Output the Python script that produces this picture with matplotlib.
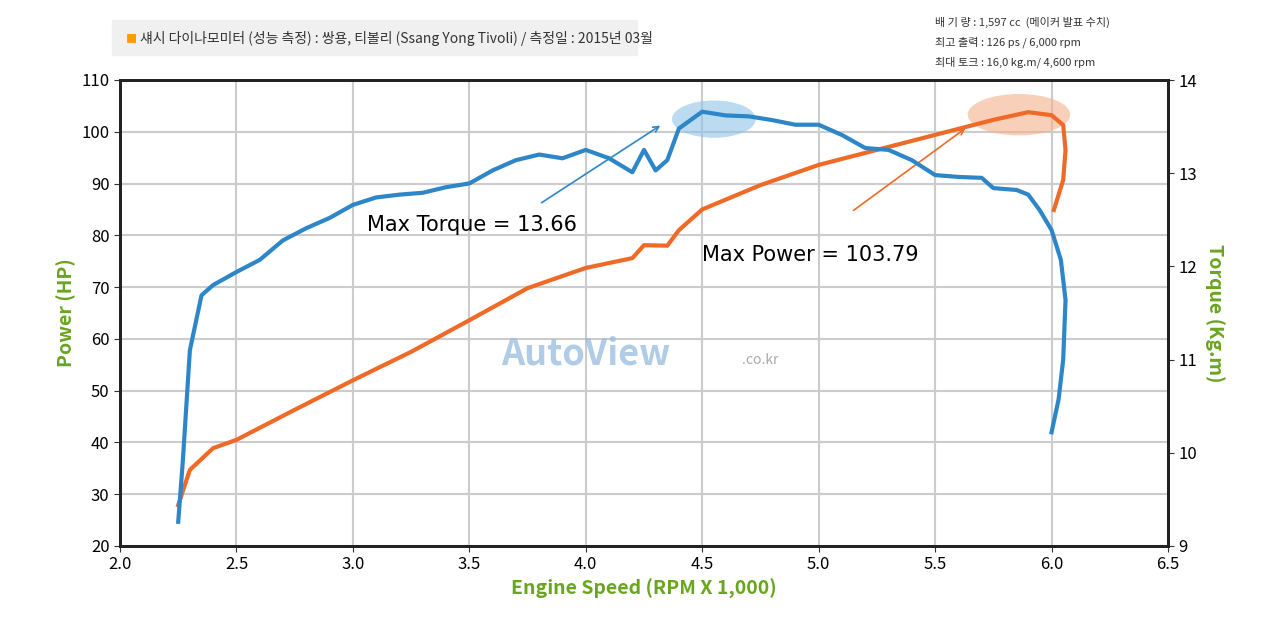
import matplotlib.pyplot as plt
from matplotlib.patches import Ellipse

plt.rcParams['font.family'] = ['Noto Sans CJK KR', 'DejaVu Sans']

# torque curve (kg.m) vs rpm x1000
torque_rpm = [2.25, 2.27, 2.3, 2.35, 2.4, 2.5, 2.6, 2.7, 2.8, 2.9, 3.0, 3.1, 3.2, 3.3, 3.4,
              3.5, 3.6, 3.7, 3.8, 3.9, 4.0, 4.1, 4.2, 4.25, 4.3, 4.35, 4.4, 4.5, 4.6, 4.7,
              4.8, 4.9, 5.0, 5.1, 5.2, 5.3, 5.4, 5.5, 5.6, 5.7, 5.75, 5.85, 5.9, 5.95, 6.0,
              6.04, 6.06, 6.05, 6.03, 6.0]
torque = [9.26, 9.92, 11.1, 11.69, 11.8, 11.94, 12.07, 12.28, 12.41, 12.52, 12.66, 12.74,
          12.77, 12.79, 12.85, 12.89, 13.03, 13.14, 13.2, 13.16, 13.25, 13.16, 13.01, 13.25,
          13.03, 13.14, 13.48, 13.66, 13.62, 13.61, 13.57, 13.52, 13.52, 13.41, 13.27, 13.25,
          13.14, 12.98, 12.96, 12.95, 12.84, 12.82, 12.77, 12.6, 12.39, 12.07, 11.64, 11.0,
          10.57, 10.22]

# power curve (HP)
power_rpm = [2.25, 2.3, 2.4, 2.5, 2.75, 3.0, 3.25, 3.5, 3.75, 4.0, 4.2, 4.25, 4.35, 4.4,
             4.5, 4.75, 5.0, 5.25, 5.5, 5.75, 5.9, 6.0, 6.05, 6.06, 6.05, 6.01]
power = [27.9, 34.7, 38.9, 40.5, 46.3, 52.0, 57.5, 63.6, 69.8, 73.7, 75.6, 78.1, 78.0, 81.0,
         85.0, 89.7, 93.6, 96.5, 99.4, 102.3, 103.79, 103.2, 101.3, 96.5, 90.7, 84.9]

green = '#6aa51e'
blue = '#2d86c8'
orange = '#ef6a26'

fig = plt.figure(figsize=(12.8, 6.21), dpi=100)
ax = fig.add_axes([120 / 1280, 1 - 546 / 621, 1048 / 1280, 466 / 621])
ax2 = ax.twinx()

ax.plot(power_rpm, power, color=orange, lw=3, zorder=3)
ax2.plot(torque_rpm, torque, color=blue, lw=3, zorder=3)

ax.set_xlim(2.0, 6.5)
ax.set_ylim(20, 110)
ax2.set_ylim(9, 14)
ax.set_xticks([2.0 + 0.5 * i for i in range(10)])
ax.set_yticks(range(20, 111, 10))
ax2.set_yticks(range(9, 15))
ax.grid(True, color='#cccccc', lw=1.5)
for a in (ax, ax2):
    a.tick_params(labelsize=12, color='#333333', length=4)
    for s in a.spines.values():
        s.set_linewidth(2)
        s.set_color('#222222')

ax.set_xlabel('Engine Speed (RPM X 1,000)', color=green, fontsize=14, fontweight='bold')
ax.set_ylabel('Power (HP)', color=green, fontsize=14, fontweight='bold')
ax2.set_ylabel('Torque (Kg.m)', color=green, fontsize=14, fontweight='bold', rotation=270, labelpad=20)

# highlight ellipses
ax2.add_patch(Ellipse((4.55, 13.58), 0.36, 0.4, color='#8fc3e8', alpha=0.6, zorder=2, lw=0))
ax.add_patch(Ellipse((5.86, 103.3), 0.44, 8, color='#f4b08a', alpha=0.6, zorder=2, lw=0))

ax.annotate('', xy=(4.33, 101.5), xytext=(3.8, 86),
            arrowprops=dict(arrowstyle='->', color=blue, lw=1.2))
ax.annotate('', xy=(5.64, 101), xytext=(5.14, 84.5),
            arrowprops=dict(arrowstyle='->', color=orange, lw=1.2))
ax.text(3.06, 82, 'Max Torque = 13.66', fontsize=15, va='center', family=['DejaVu Sans'])
ax.text(4.5, 76.2, 'Max Power = 103.79', fontsize=15, va='center', family=['DejaVu Sans'])

# watermark
ax.text(4.0, 57, 'AutoView', fontsize=26, fontweight='bold', style='italic',
        color='#9cc0e0', alpha=0.8, ha='center', va='center')
ax.text(4.67, 56, '.co.kr', fontsize=10, color='#aaaaaa', va='center')

# header
fig.patches.append(plt.Rectangle((112 / 1280, 1 - 55 / 621), 525 / 1280, 35 / 621,
                                 transform=fig.transFigure, color='#f0f0f0', zorder=0))
fig.text(126 / 1280, 1 - 39 / 621, '■', color='#f5a000', fontsize=8, va='center')
fig.text(140 / 1280, 1 - 39 / 621,
         '섀시 다이나모미터 (성능 측정) : 쌍용, 티볼리 (Ssang Yong Tivoli) / 측정일 : 2015년 03월',
         fontsize=10, va='center', color='#333333')
spec = ['배 기 량 : 1,597 cc  (메이커 발표 수치)',
        '최고 출력 : 126 ps / 6,000 rpm',
        '최대 토크 : 16,0 kg.m/ 4,600 rpm']
for i, s in enumerate(spec):
    fig.text(935 / 1280, 1 - (22 + 20 * i) / 621, s, fontsize=8, va='center', color='#333333')

fig.savefig('out.png', dpi=100)
